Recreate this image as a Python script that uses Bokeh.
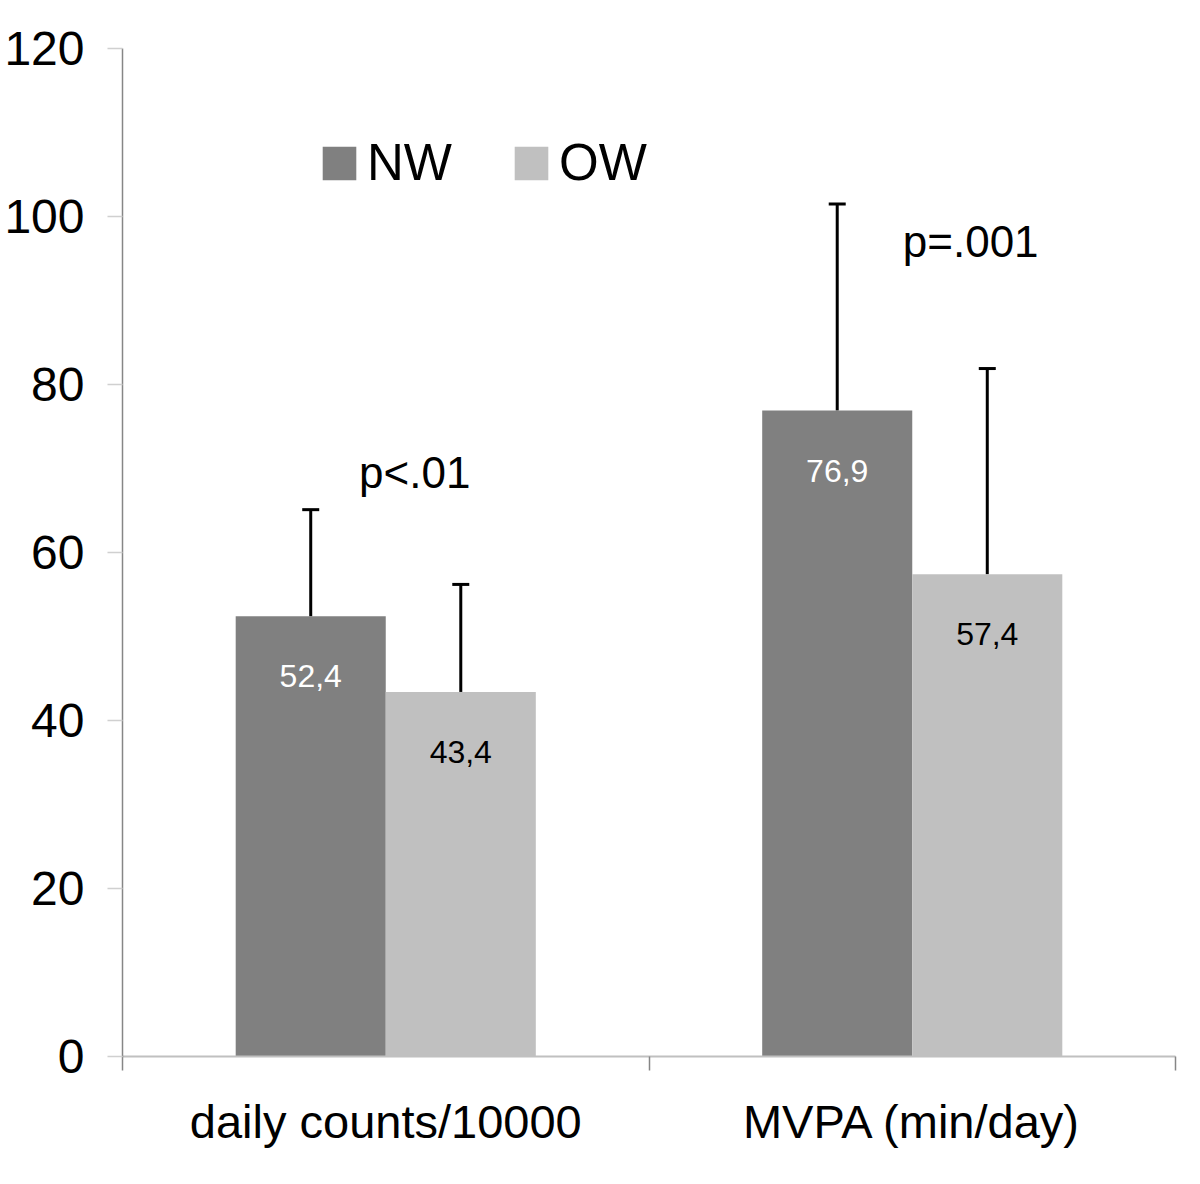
from bokeh.plotting import figure
from bokeh.models import (ColumnDataSource, Range1d, FixedTicker, Whisker, TeeHead,
                          Legend, LegendItem, Label)
from bokeh.core.properties import value
from bokeh.embed import file_html
from bokeh.resources import INLINE

categories = ["daily counts/10000", "MVPA (min/day)"]
groups = ["NW", "OW"]
nw_mean = [52.4, 76.9]
ow_mean = [43.4, 57.4]
nw_sd = [12.7, 24.6]
ow_sd = [12.8, 24.5]
nw_labels = ["52,4", "76,9"]
ow_labels = ["43,4", "57,4"]
p_labels = ["p<.01", "p=.001"]
y_ticks = [0, 20, 40, 60, 80, 100, 120]

FONT = "Liberation Sans"
NW_COLOR = "#808080"
OW_COLOR = "#c0c0c0"
BAR_W = 0.285
OFF = 0.1425

centers = [i + 0.5 for i in range(len(categories))]
nw_x = [c - OFF for c in centers]
ow_x = [c + OFF for c in centers]

nw_src = ColumnDataSource(dict(x=nw_x, top=nw_mean, upper=[m + s for m, s in zip(nw_mean, nw_sd)], lab=nw_labels))
ow_src = ColumnDataSource(dict(x=ow_x, top=ow_mean, upper=[m + s for m, s in zip(ow_mean, ow_sd)], lab=ow_labels))

p = figure(width=1184, height=1168, output_backend="svg", toolbar_location=None,
           x_range=Range1d(0, 2), y_range=Range1d(0, 120),
           min_border_left=122, min_border_right=9, min_border_top=48, min_border_bottom=112)
p.outline_line_color = None
p.grid.grid_line_color = None
p.background_fill_color = "white"

r_nw = p.vbar(x="x", top="top", bottom=0, width=BAR_W, source=nw_src, fill_color=NW_COLOR, line_color=None)
r_ow = p.vbar(x="x", top="top", bottom=0, width=BAR_W, source=ow_src, fill_color=OW_COLOR, line_color=None)

for src in (nw_src, ow_src):
    w = Whisker(base="x", lower="top", upper="upper", source=src, dimension="height",
                line_color="black", line_width=3,
                upper_head=TeeHead(size=17, line_color="black", line_width=3), lower_head=None)
    p.add_layout(w)

p.text(x="x", y="top", text="lab", source=nw_src, text_color="white",
       text_font=value(FONT), text_font_size="32px", text_align="center",
       text_baseline="middle", y_offset=60)
p.text(x="x", y="top", text="lab", source=ow_src, text_color="black",
       text_font=value(FONT), text_font_size="32px", text_align="center",
       text_baseline="middle", y_offset=60)

# p-value annotations
p.add_layout(Label(x=0.555, y=69.5, text=p_labels[0], text_font=FONT, text_font_size="44px",
                   text_color="black", text_align="center", text_baseline="middle"))
p.add_layout(Label(x=1.611, y=97.0, text=p_labels[1], text_font=FONT, text_font_size="44px",
                   text_color="black", text_align="center", text_baseline="middle"))

# y axis
ya = p.yaxis[0]
ya.ticker = FixedTicker(ticks=y_ticks)
ya.axis_line_color = "#868686"
ya.axis_line_width = 1.5
ya.major_tick_line_color = "#d0d0d0"
ya.major_tick_line_width = 1.5
ya.major_tick_out = 15
ya.major_tick_in = 0
ya.minor_tick_line_color = None
ya.major_label_standoff = 23
ya.major_label_text_font = FONT
ya.major_label_text_font_size = "48px"
ya.major_label_text_color = "black"

# x axis
xa = p.xaxis[0]
xa.ticker = FixedTicker(ticks=centers, minor_ticks=[0, 1, 2])
xa.major_label_overrides = {c: lab for c, lab in zip(centers, categories)}
xa.axis_line_color = "#c0c0c0"
xa.axis_line_width = 2
xa.major_tick_line_color = None
xa.major_tick_out = 0
xa.major_tick_in = 0
xa.minor_tick_line_color = "#868686"
xa.minor_tick_line_width = 1.5
xa.minor_tick_out = 14
xa.minor_tick_in = 0
xa.major_label_standoff = 24
xa.major_label_text_font = FONT
xa.major_label_text_font_size = "47px"
xa.major_label_text_color = "black"

legend = Legend(items=[LegendItem(label=groups[0], renderers=[r_nw]),
                       LegendItem(label=groups[1], renderers=[r_ow])],
                orientation="horizontal", location=(196, 864),
                glyph_width=42, glyph_height=42, label_standoff=7, spacing=58,
                padding=0, margin=0, border_line_color=None, background_fill_alpha=0,
                label_text_font=FONT, label_text_font_size="51px", label_text_color="black")
p.add_layout(legend)

open("out.html", "w").write(file_html(p, INLINE))
